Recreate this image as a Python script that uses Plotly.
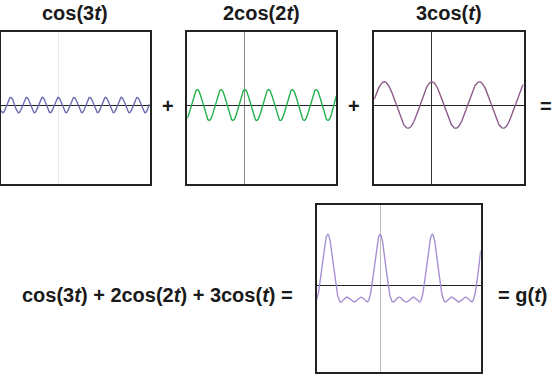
import numpy as np
import plotly.graph_objects as go

# Data: the three cosine terms
titles = ["cos(3<i>t</i>)", "2cos(2<i>t</i>)", "3cos(<i>t</i>)"]
amplitudes = [1, 2, 3]
frequencies = [3, 2, 1]
t_range = [-7.6, 12.1]
y_range = [-10.2, 9.5]

t = np.linspace(t_range[0], t_range[1], 1200)
terms = [a * np.cos(f * t) for a, f in zip(amplitudes, frequencies)]
total = sum(terms)

line_colors = ["#6c6cb0", "#22b04c", "#8c5c8a", "#a690d2"]
vline_colors = ["#ececec", "#8a8a8a", "#333333", "#bdbdbd"]

W, H = 552, 374
# panel pixel boxes (x0, x1, y0, y1) in screen coords
boxes = [
    (0.8, 149.5, 31.5, 184.0),
    (187.3, 336.3, 31.5, 184.0),
    (374.3, 523.5, 31.5, 184.0),
    (316.8, 480.7, 204.5, 371.7),
]

fig = go.Figure()
series = terms + [total]
for i, (ys, col) in enumerate(zip(series, line_colors)):
    n = "" if i == 0 else str(i + 1)
    fig.add_trace(go.Scatter(x=t, y=ys, mode="lines",
                             line=dict(color=col, width=1.4),
                             xaxis="x" + n, yaxis="y" + n,
                             hoverinfo="skip", showlegend=False))
    x0, x1, y0, y1 = boxes[i]
    common = dict(showline=True, mirror=True, linecolor="#222222", linewidth=1.6,
                  showgrid=False, showticklabels=False, ticks="", zeroline=True)
    fig.layout["xaxis" + n] = dict(domain=[x0 / W, x1 / W], range=t_range,
                                   anchor="y" + n, zerolinecolor=vline_colors[i],
                                   zerolinewidth=1.2, **common)
    fig.layout["yaxis" + n] = dict(domain=[1 - y1 / H, 1 - y0 / H], range=y_range,
                                   anchor="x" + n, zerolinecolor="#222222",
                                   zerolinewidth=1.2, **common)

font = dict(family="Liberation Sans, Arial, Helvetica, sans-serif", size=20, color="#1a1a1a")
ann = []
title_x = [75, 261.8, 448.9]
for tx, tt in zip(title_x, titles):
    ann.append(dict(x=tx / W, y=1 - 13 / H, text="<b>" + tt + "</b>"))
ann.append(dict(x=168 / W, y=1 - 106 / H, text="<b>+</b>"))
ann.append(dict(x=354 / W, y=1 - 106 / H, text="<b>+</b>"))
ann.append(dict(x=546 / W, y=1 - 106 / H, text="<b>=</b>"))
ann.append(dict(x=157 / W, y=1 - 295 / H,
                text="<b>cos(3<i>t</i>) + 2cos(2<i>t</i>) + 3cos(<i>t</i>) =</b>"))
ann.append(dict(x=522 / W, y=1 - 295 / H, text="<b>= g(<i>t</i>)</b>"))
for a in ann:
    a.update(xref="paper", yref="paper", showarrow=False, font=font,
             xanchor="center", yanchor="middle")
fig.update_layout(annotations=ann, width=W, height=H,
                  margin=dict(l=0, r=0, t=0, b=0),
                  paper_bgcolor="white", plot_bgcolor="white")
fig.write_html("out.html", config={"displayModeBar": False},
               post_script="document.body.style.margin='0';document.body.style.overflow='hidden';")
